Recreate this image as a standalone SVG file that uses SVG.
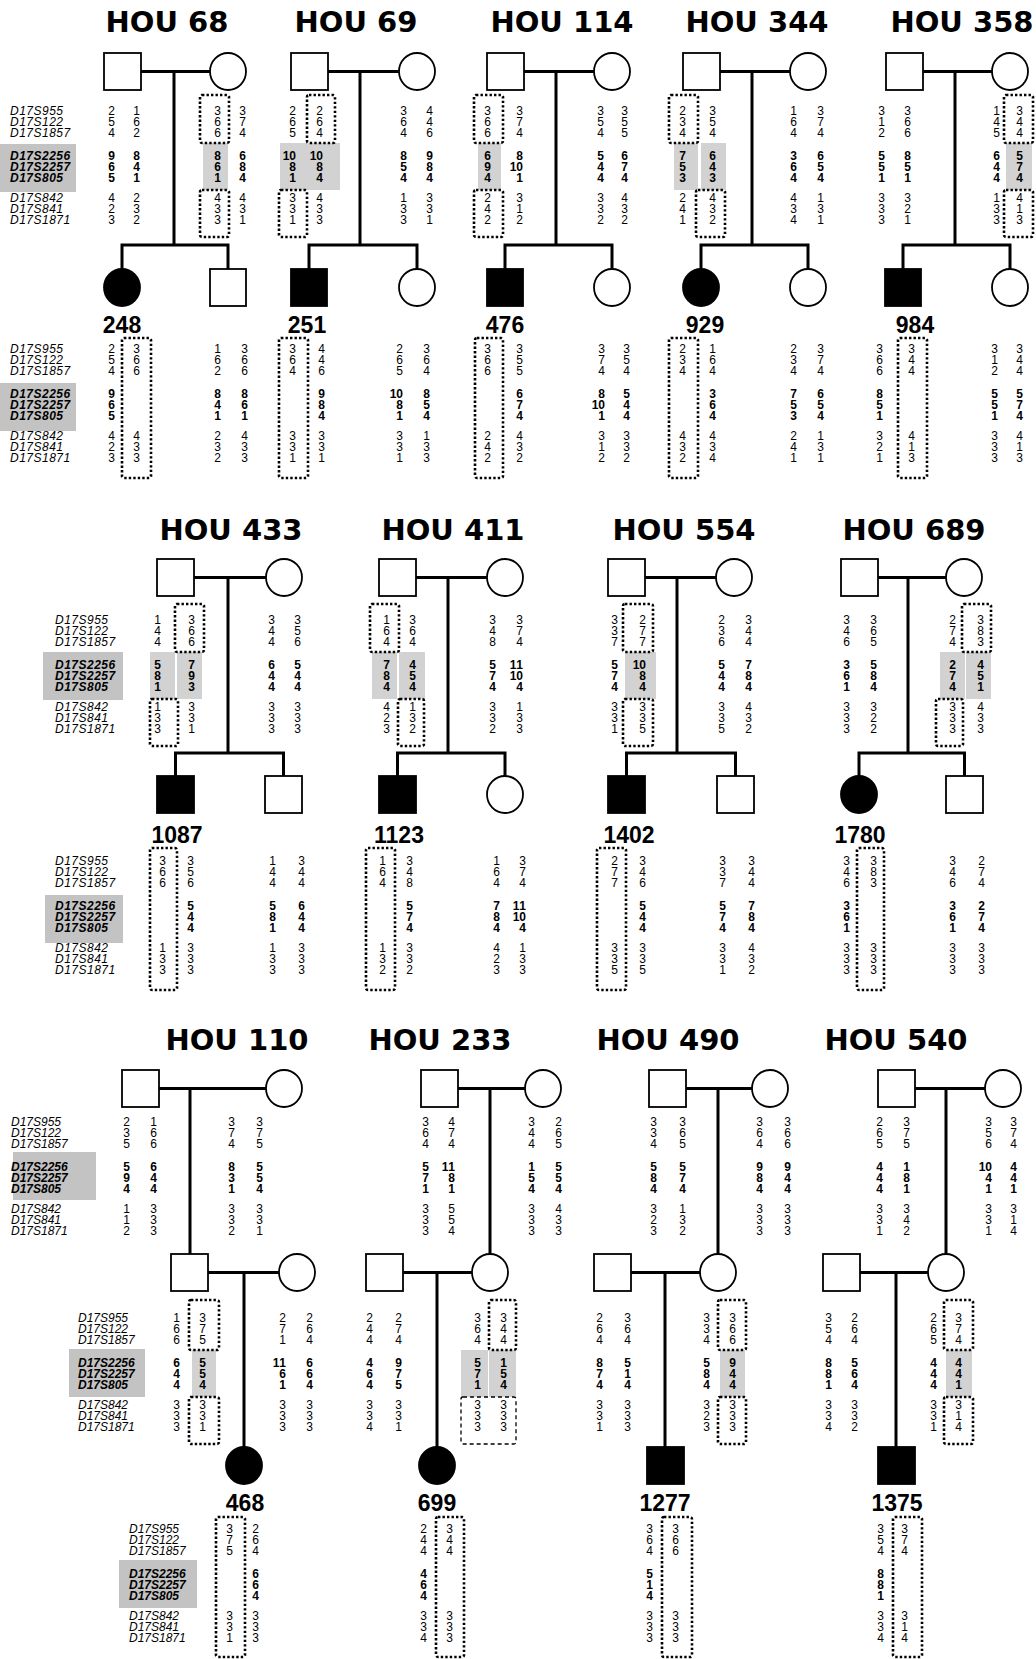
<svg xmlns="http://www.w3.org/2000/svg" width="1036" height="1659" viewBox="0 0 1036 1659">
<style>
.t{font-family:"DejaVu Sans",sans-serif;font-weight:bold;font-size:29px;text-anchor:middle}
.id{font-family:"Liberation Sans",Arial,sans-serif;font-weight:bold;font-size:23px;text-anchor:middle}
.mk{font-family:"Liberation Sans",Arial,sans-serif;font-style:italic;font-size:12px;letter-spacing:0.5px}
.mk3{font-family:"Liberation Sans",Arial,sans-serif;font-style:italic;font-size:12px}
.d{font-family:"Liberation Sans",Arial,sans-serif;font-size:12px;text-anchor:end}
.b{font-weight:bold}
.lsh{fill:#c3c3c3}
.sh{fill:#d2d2d2}
.box{fill:none;stroke:#000;stroke-width:2.6;stroke-dasharray:2.4 2.1}
.dsh{fill:none;stroke:#000;stroke-width:1.3;stroke-dasharray:4 3}
.ln{fill:none;stroke:#000;stroke-width:3;stroke-linecap:square}
.o{fill:#fff;stroke:#000;stroke-width:1.8}
.f{fill:#000;stroke:#000;stroke-width:1.8}
</style>
<rect width="1036" height="1659" fill="#fff"/>

<g id="titles">
<text class="t" x="167" y="32">HOU 68</text>
<text class="t" x="356" y="32">HOU 69</text>
<text class="t" x="562" y="32">HOU 114</text>
<text class="t" x="757" y="32">HOU 344</text>
<text class="t" x="962" y="32">HOU 358</text>
<text class="t" x="231" y="540">HOU 433</text>
<text class="t" x="453" y="540">HOU 411</text>
<text class="t" x="684" y="540">HOU 554</text>
<text class="t" x="914" y="540">HOU 689</text>
<text class="t" x="237" y="1050">HOU 110</text>
<text class="t" x="440" y="1050">HOU 233</text>
<text class="t" x="668" y="1050">HOU 490</text>
<text class="t" x="896" y="1050">HOU 540</text>
</g>

<g id="marker-labels">
<rect class="lsh" x="0" y="144" width="76" height="48"/>
<rect class="lsh" x="0" y="383" width="76" height="48"/>
<rect class="lsh" x="43" y="652" width="80" height="48"/>
<rect class="lsh" x="45" y="895" width="78" height="48"/>
<rect class="lsh" x="13" y="1152" width="83" height="48"/>
<rect class="lsh" x="69" y="1349" width="76" height="48"/>
<rect class="lsh" x="119" y="1560" width="78" height="48"/>
<text class="mk" transform="translate(10,115)"><tspan x="0" y="0">D17S955</tspan><tspan x="0" y="11">D17S122</tspan><tspan x="0" y="22">D17S1857</tspan><tspan class="b" x="0" y="45">D17S2256</tspan><tspan class="b" x="0" y="56">D17S2257</tspan><tspan class="b" x="0" y="67">D17S805</tspan><tspan x="0" y="87">D17S842</tspan><tspan x="0" y="98">D17S841</tspan><tspan x="0" y="109">D17S1871</tspan></text>
<text class="mk" transform="translate(10,353)"><tspan x="0" y="0">D17S955</tspan><tspan x="0" y="11">D17S122</tspan><tspan x="0" y="22">D17S1857</tspan><tspan class="b" x="0" y="45">D17S2256</tspan><tspan class="b" x="0" y="56">D17S2257</tspan><tspan class="b" x="0" y="67">D17S805</tspan><tspan x="0" y="87">D17S842</tspan><tspan x="0" y="98">D17S841</tspan><tspan x="0" y="109">D17S1871</tspan></text>
<text class="mk" transform="translate(55,624)"><tspan x="0" y="0">D17S955</tspan><tspan x="0" y="11">D17S122</tspan><tspan x="0" y="22">D17S1857</tspan><tspan class="b" x="0" y="45">D17S2256</tspan><tspan class="b" x="0" y="56">D17S2257</tspan><tspan class="b" x="0" y="67">D17S805</tspan><tspan x="0" y="87">D17S842</tspan><tspan x="0" y="98">D17S841</tspan><tspan x="0" y="109">D17S1871</tspan></text>
<text class="mk" transform="translate(55,865)"><tspan x="0" y="0">D17S955</tspan><tspan x="0" y="11">D17S122</tspan><tspan x="0" y="22">D17S1857</tspan><tspan class="b" x="0" y="45">D17S2256</tspan><tspan class="b" x="0" y="56">D17S2257</tspan><tspan class="b" x="0" y="67">D17S805</tspan><tspan x="0" y="87">D17S842</tspan><tspan x="0" y="98">D17S841</tspan><tspan x="0" y="109">D17S1871</tspan></text>
<text class="mk3" transform="translate(11,1126)"><tspan x="0" y="0">D17S955</tspan><tspan x="0" y="11">D17S122</tspan><tspan x="0" y="22">D17S1857</tspan><tspan class="b" x="0" y="45">D17S2256</tspan><tspan class="b" x="0" y="56">D17S2257</tspan><tspan class="b" x="0" y="67">D17S805</tspan><tspan x="0" y="87">D17S842</tspan><tspan x="0" y="98">D17S841</tspan><tspan x="0" y="109">D17S1871</tspan></text>
<text class="mk3" transform="translate(78,1322)"><tspan x="0" y="0">D17S955</tspan><tspan x="0" y="11">D17S122</tspan><tspan x="0" y="22">D17S1857</tspan><tspan class="b" x="0" y="45">D17S2256</tspan><tspan class="b" x="0" y="56">D17S2257</tspan><tspan class="b" x="0" y="67">D17S805</tspan><tspan x="0" y="87">D17S842</tspan><tspan x="0" y="98">D17S841</tspan><tspan x="0" y="109">D17S1871</tspan></text>
<text class="mk3" transform="translate(129,1533)"><tspan x="0" y="0">D17S955</tspan><tspan x="0" y="11">D17S122</tspan><tspan x="0" y="22">D17S1857</tspan><tspan class="b" x="0" y="45">D17S2256</tspan><tspan class="b" x="0" y="56">D17S2257</tspan><tspan class="b" x="0" y="67">D17S805</tspan><tspan x="0" y="87">D17S842</tspan><tspan x="0" y="98">D17S841</tspan><tspan x="0" y="109">D17S1871</tspan></text>
</g>

<g id="connectors" class="ln">
<path d="M141 71.5H210M174 71.5V245M122 245H228M122 245V269M228 245V269"/>
<path d="M328 71.5H399M360 71.5V245M309 245H417M309 245V269M417 245V269"/>
<path d="M524 71.5H594M556 71.5V245M505 245H612M505 245V269M612 245V269"/>
<path d="M720 71.5H790M752 71.5V245M701 245H808M701 245V269M808 245V269"/>
<path d="M923 71.5H992M955 71.5V245M903 245H1010M903 245V269M1010 245V269"/>
<path d="M194 577.5H266M228 577.5V753M175.5 753H283.5M175.5 753V776M283.5 753V776"/>
<path d="M416 577.5H487M448 577.5V753M397.5 753H505M397.5 753V776M505 753V776"/>
<path d="M645 577.5H716M677 577.5V753M626.5 753H735.5M626.5 753V776M735.5 753V776"/>
<path d="M878 577.5H946M908 577.5V753M859 753H964.5M859 753V776M964.5 753V776"/>
<path d="M159 1088.5H266M190 1088.5V1254M208 1272.5H279M244 1272.5V1447"/>
<path d="M458 1088.5H525M490 1088.5V1254M403 1272.5H472M437 1272.5V1447"/>
<path d="M686 1088.5H752M718 1088.5V1254M631 1272.5H700M665 1272.5V1447"/>
<path d="M915 1088.5H985M946 1088.5V1254M860 1272.5H928M896 1272.5V1447"/>
</g>

<!-- ROW 1 -->
<g id="hou68-father">
<rect class="o" x="104" y="53" width="37" height="37"/>
<text class="d" transform="translate(115,115)" x="0 0 0 0 0 0 0 0 0" y="0 11 22 45 56 67 87 98 109">254<tspan class="b">965</tspan>423</text>
<text class="d" transform="translate(140,115)" x="0 0 0 0 0 0 0 0 0" y="0 11 22 45 56 67 87 98 109">162<tspan class="b">841</tspan>232</text>
</g>
<g id="hou68-mother">
<rect class="sh" x="203" y="143" width="25" height="47"/>
<ellipse class="o" cx="228" cy="71.5" rx="18" ry="18.5"/>
<text class="d" transform="translate(221,115)" x="0 0 0 0 0 0 0 0 0" y="0 11 22 45 56 67 87 98 109">366<tspan class="b">861</tspan>433</text>
<text class="d" transform="translate(246,115)" x="0 0 0 0 0 0 0 0 0" y="0 11 22 45 56 67 87 98 109">374<tspan class="b">684</tspan>431</text>
<rect class="box" x="200" y="95" width="29" height="48" rx="2"/>
<rect class="box" x="200" y="190" width="29" height="47" rx="2"/>
</g>
<g id="hou68-248">
<ellipse class="f" cx="122" cy="287.5" rx="18" ry="18.5"/>
<text class="id" x="122" y="333">248</text>
<text class="d" transform="translate(115,353)" x="0 0 0 0 0 0 0 0 0" y="0 11 22 45 56 67 87 98 109">254<tspan class="b">965</tspan>423</text>
<text class="d" transform="translate(140,353)" x="0 0 0 0 0 0" y="0 11 22 87 98 109">366433</text>
<rect class="box" x="122" y="338" width="29" height="140" rx="2"/>
</g>
<g id="hou68-sib">
<rect class="o" x="210" y="269" width="36" height="37"/>
<text class="d" transform="translate(221,353)" x="0 0 0 0 0 0 0 0 0" y="0 11 22 45 56 67 87 98 109">162<tspan class="b">841</tspan>232</text>
<text class="d" transform="translate(248,353)" x="0 0 0 0 0 0 0 0 0" y="0 11 22 45 56 67 87 98 109">366<tspan class="b">861</tspan>433</text>
</g>

<g id="hou69-father">
<rect class="sh" x="280" y="143" width="60" height="47"/>
<rect class="o" x="291" y="53" width="37" height="37"/>
<text class="d" transform="translate(296,115)" x="0 0 0 -6.7 0 0 0 0 0 0" y="0 11 22 45 45 56 67 87 98 109">265<tspan class="b">1081</tspan>331</text>
<text class="d" transform="translate(323,115)" x="0 0 0 -6.7 0 0 0 0 0 0" y="0 11 22 45 45 56 67 87 98 109">264<tspan class="b">1084</tspan>433</text>
<rect class="box" x="307" y="95" width="28" height="48" rx="2"/>
<rect class="box" x="279" y="190" width="28" height="47" rx="2"/>
</g>
<g id="hou69-mother">
<ellipse class="o" cx="417" cy="71.5" rx="18" ry="18.5"/>
<text class="d" transform="translate(407,115)" x="0 0 0 0 0 0 0 0 0" y="0 11 22 45 56 67 87 98 109">364<tspan class="b">854</tspan>133</text>
<text class="d" transform="translate(433,115)" x="0 0 0 0 0 0 0 0 0" y="0 11 22 45 56 67 87 98 109">446<tspan class="b">984</tspan>331</text>
</g>
<g id="hou69-251">
<rect class="f" x="291" y="269" width="36" height="37"/>
<text class="id" x="307" y="333">251</text>
<text class="d" transform="translate(296,353)" x="0 0 0 0 0 0" y="0 11 22 87 98 109">364331</text>
<text class="d" transform="translate(325,353)" x="0 0 0 0 0 0 0 0 0" y="0 11 22 45 56 67 87 98 109">446<tspan class="b">984</tspan>331</text>
<rect class="box" x="279" y="338" width="29" height="140" rx="2"/>
</g>
<g id="hou69-sib">
<ellipse class="o" cx="417" cy="287.5" rx="18" ry="18.5"/>
<text class="d" transform="translate(403,353)" x="0 0 0 -6.7 0 0 0 0 0 0" y="0 11 22 45 45 56 67 87 98 109">265<tspan class="b">1081</tspan>331</text>
<text class="d" transform="translate(430,353)" x="0 0 0 0 0 0 0 0 0" y="0 11 22 45 56 67 87 98 109">364<tspan class="b">854</tspan>133</text>
</g>

<g id="hou114-father">
<rect class="sh" x="478" y="143" width="23" height="47"/>
<rect class="o" x="487" y="53" width="37" height="37"/>
<text class="d" transform="translate(491,115)" x="0 0 0 0 0 0 0 0 0" y="0 11 22 45 56 67 87 98 109">366<tspan class="b">694</tspan>242</text>
<text class="d" transform="translate(523,115)" x="0 0 0 0 -6.7 0 0 0 0 0" y="0 11 22 45 56 56 67 87 98 109">374<tspan class="b">8101</tspan>312</text>
<rect class="box" x="474" y="95" width="29" height="48" rx="2"/>
<rect class="box" x="474" y="190" width="29" height="47" rx="2"/>
</g>
<g id="hou114-mother">
<ellipse class="o" cx="612" cy="71.5" rx="18" ry="18.5"/>
<text class="d" transform="translate(604,115)" x="0 0 0 0 0 0 0 0 0" y="0 11 22 45 56 67 87 98 109">354<tspan class="b">544</tspan>332</text>
<text class="d" transform="translate(628,115)" x="0 0 0 0 0 0 0 0 0" y="0 11 22 45 56 67 87 98 109">355<tspan class="b">674</tspan>432</text>
</g>
<g id="hou114-476">
<rect class="f" x="487" y="269" width="36" height="37"/>
<text class="id" x="505" y="333">476</text>
<text class="d" transform="translate(491,353)" x="0 0 0 0 0 0" y="0 11 22 87 98 109">366242</text>
<text class="d" transform="translate(523,353)" x="0 0 0 0 0 0 0 0 0" y="0 11 22 45 56 67 87 98 109">355<tspan class="b">674</tspan>432</text>
<rect class="box" x="475" y="338" width="28" height="140" rx="2"/>
</g>
<g id="hou114-sib">
<ellipse class="o" cx="612" cy="287.5" rx="18" ry="18.5"/>
<text class="d" transform="translate(605,353)" x="0 0 0 0 -6.7 0 0 0 0 0" y="0 11 22 45 56 56 67 87 98 109">374<tspan class="b">8101</tspan>312</text>
<text class="d" transform="translate(630,353)" x="0 0 0 0 0 0 0 0 0" y="0 11 22 45 56 67 87 98 109">354<tspan class="b">544</tspan>332</text>
</g>

<g id="hou344-father">
<rect class="sh" x="674" y="143" width="24" height="47"/>
<rect class="sh" x="701" y="143" width="25" height="47"/>
<rect class="o" x="683" y="53" width="37" height="37"/>
<text class="d" transform="translate(686,115)" x="0 0 0 0 0 0 0 0 0" y="0 11 22 45 56 67 87 98 109">234<tspan class="b">753</tspan>241</text>
<text class="d" transform="translate(716,115)" x="0 0 0 0 0 0 0 0 0" y="0 11 22 45 56 67 87 98 109">354<tspan class="b">643</tspan>432</text>
<rect class="box" x="669" y="95" width="29" height="48" rx="2"/>
<rect class="box" x="696" y="190" width="29" height="47" rx="2"/>
</g>
<g id="hou344-mother">
<ellipse class="o" cx="808" cy="71.5" rx="18" ry="18.5"/>
<text class="d" transform="translate(797,115)" x="0 0 0 0 0 0 0 0 0" y="0 11 22 45 56 67 87 98 109">164<tspan class="b">364</tspan>434</text>
<text class="d" transform="translate(824,115)" x="0 0 0 0 0 0 0 0 0" y="0 11 22 45 56 67 87 98 109">374<tspan class="b">654</tspan>131</text>
</g>
<g id="hou344-929">
<ellipse class="f" cx="701" cy="287.5" rx="18" ry="18.5"/>
<text class="id" x="705" y="333">929</text>
<text class="d" transform="translate(686,353)" x="0 0 0 0 0 0" y="0 11 22 87 98 109">234432</text>
<text class="d" transform="translate(716,353)" x="0 0 0 0 0 0 0 0 0" y="0 11 22 45 56 67 87 98 109">164<tspan class="b">364</tspan>434</text>
<rect class="box" x="669" y="338" width="29" height="140" rx="2"/>
</g>
<g id="hou344-sib">
<ellipse class="o" cx="808" cy="287.5" rx="18" ry="18.5"/>
<text class="d" transform="translate(797,353)" x="0 0 0 0 0 0 0 0 0" y="0 11 22 45 56 67 87 98 109">234<tspan class="b">753</tspan>241</text>
<text class="d" transform="translate(824,353)" x="0 0 0 0 0 0 0 0 0" y="0 11 22 45 56 67 87 98 109">374<tspan class="b">654</tspan>131</text>
</g>

<g id="hou358-father">
<rect class="o" x="886" y="53" width="37" height="37"/>
<text class="d" transform="translate(885,115)" x="0 0 0 0 0 0 0 0 0" y="0 11 22 45 56 67 87 98 109">312<tspan class="b">551</tspan>333</text>
<text class="d" transform="translate(911,115)" x="0 0 0 0 0 0 0 0 0" y="0 11 22 45 56 67 87 98 109">366<tspan class="b">851</tspan>321</text>
</g>
<g id="hou358-mother">
<rect class="sh" x="1006" y="143" width="26" height="47"/>
<ellipse class="o" cx="1010" cy="71.5" rx="18" ry="18.5"/>
<text class="d" transform="translate(1000,115)" x="0 0 0 0 0 0 0 0 0" y="0 11 22 45 56 67 87 98 109">145<tspan class="b">644</tspan>133</text>
<text class="d" transform="translate(1023,115)" x="0 0 0 0 0 0 0 0 0" y="0 11 22 45 56 67 87 98 109">344<tspan class="b">574</tspan>413</text>
<rect class="box" x="1004" y="95" width="29" height="48" rx="2"/>
<rect class="box" x="1004" y="190" width="29" height="47" rx="2"/>
</g>
<g id="hou358-984">
<rect class="f" x="885" y="269" width="36" height="37"/>
<text class="id" x="915" y="333">984</text>
<text class="d" transform="translate(883,353)" x="0 0 0 0 0 0 0 0 0" y="0 11 22 45 56 67 87 98 109">366<tspan class="b">851</tspan>321</text>
<text class="d" transform="translate(915,353)" x="0 0 0 0 0 0" y="0 11 22 87 98 109">344413</text>
<rect class="box" x="898" y="338" width="29" height="140" rx="2"/>
</g>
<g id="hou358-sib">
<ellipse class="o" cx="1010" cy="287.5" rx="18" ry="18.5"/>
<text class="d" transform="translate(998,353)" x="0 0 0 0 0 0 0 0 0" y="0 11 22 45 56 67 87 98 109">312<tspan class="b">551</tspan>333</text>
<text class="d" transform="translate(1023,353)" x="0 0 0 0 0 0 0 0 0" y="0 11 22 45 56 67 87 98 109">344<tspan class="b">574</tspan>413</text>
</g>

<!-- ROW 2 -->
<g id="hou433-father">
<rect class="sh" x="150" y="652" width="25" height="47"/>
<rect class="sh" x="177" y="652" width="25" height="47"/>
<rect class="o" x="157" y="559" width="37" height="37"/>
<text class="d" transform="translate(161,624)" x="0 0 0 0 0 0 0 0 0" y="0 11 22 45 56 67 87 98 109">144<tspan class="b">581</tspan>133</text>
<text class="d" transform="translate(195,624)" x="0 0 0 0 0 0 0 0 0" y="0 11 22 45 56 67 87 98 109">366<tspan class="b">793</tspan>331</text>
<rect class="box" x="175" y="604" width="29" height="48" rx="2"/>
<rect class="box" x="150" y="699" width="28" height="47" rx="2"/>
</g>
<g id="hou433-mother">
<ellipse class="o" cx="284" cy="577.5" rx="18" ry="18.5"/>
<text class="d" transform="translate(275,624)" x="0 0 0 0 0 0 0 0 0" y="0 11 22 45 56 67 87 98 109">344<tspan class="b">644</tspan>333</text>
<text class="d" transform="translate(301,624)" x="0 0 0 0 0 0 0 0 0" y="0 11 22 45 56 67 87 98 109">356<tspan class="b">544</tspan>333</text>
</g>
<g id="hou433-1087">
<rect class="f" x="157" y="776" width="37" height="37"/>
<text class="id" x="177" y="843">1087</text>
<text class="d" transform="translate(166,865)" x="0 0 0 0 0 0" y="0 11 22 87 98 109">366133</text>
<text class="d" transform="translate(194,865)" x="0 0 0 0 0 0 0 0 0" y="0 11 22 45 56 67 87 98 109">356<tspan class="b">544</tspan>333</text>
<rect class="box" x="150" y="848" width="27" height="142" rx="2"/>
</g>
<g id="hou433-sib">
<rect class="o" x="265" y="776" width="37" height="37"/>
<text class="d" transform="translate(276,865)" x="0 0 0 0 0 0 0 0 0" y="0 11 22 45 56 67 87 98 109">144<tspan class="b">581</tspan>133</text>
<text class="d" transform="translate(305,865)" x="0 0 0 0 0 0 0 0 0" y="0 11 22 45 56 67 87 98 109">344<tspan class="b">644</tspan>333</text>
</g>

<g id="hou411-father">
<rect class="sh" x="372" y="652" width="25" height="47"/>
<rect class="sh" x="399" y="652" width="26" height="47"/>
<rect class="o" x="379" y="559" width="37" height="37"/>
<text class="d" transform="translate(390,624)" x="0 0 0 0 0 0 0 0 0" y="0 11 22 45 56 67 87 98 109">164<tspan class="b">784</tspan>423</text>
<text class="d" transform="translate(416,624)" x="0 0 0 0 0 0 0 0 0" y="0 11 22 45 56 67 87 98 109">364<tspan class="b">454</tspan>132</text>
<rect class="box" x="370" y="604" width="29" height="48" rx="2"/>
<rect class="box" x="398" y="699" width="26" height="47" rx="2"/>
</g>
<g id="hou411-mother">
<ellipse class="o" cx="505" cy="577.5" rx="18" ry="18.5"/>
<text class="d" transform="translate(496,624)" x="0 0 0 0 0 0 0 0 0" y="0 11 22 45 56 67 87 98 109">348<tspan class="b">574</tspan>332</text>
<text class="d" transform="translate(523,624)" x="0 0 0 -6.7 0 -6.7 0 0 0 0 0" y="0 11 22 45 45 56 56 67 87 98 109">374<tspan class="b">11104</tspan>133</text>
</g>
<g id="hou411-1123">
<rect class="f" x="379" y="776" width="37" height="37"/>
<text class="id" x="399" y="843">1123</text>
<text class="d" transform="translate(386,865)" x="0 0 0 0 0 0" y="0 11 22 87 98 109">164132</text>
<text class="d" transform="translate(413,865)" x="0 0 0 0 0 0 0 0 0" y="0 11 22 45 56 67 87 98 109">348<tspan class="b">574</tspan>332</text>
<rect class="box" x="366" y="848" width="29" height="142" rx="2"/>
</g>
<g id="hou411-sib">
<ellipse class="o" cx="505" cy="794.5" rx="18" ry="18.5"/>
<text class="d" transform="translate(500,865)" x="0 0 0 0 0 0 0 0 0" y="0 11 22 45 56 67 87 98 109">164<tspan class="b">784</tspan>423</text>
<text class="d" transform="translate(526,865)" x="0 0 0 -6.7 0 -6.7 0 0 0 0 0" y="0 11 22 45 45 56 56 67 87 98 109">374<tspan class="b">11104</tspan>133</text>
</g>

<g id="hou554-father">
<rect class="sh" x="625" y="652" width="31" height="47"/>
<rect class="o" x="608" y="559" width="37" height="37"/>
<text class="d" transform="translate(618,624)" x="0 0 0 0 0 0 0 0 0" y="0 11 22 45 56 67 87 98 109">337<tspan class="b">574</tspan>331</text>
<text class="d" transform="translate(646,624)" x="0 0 0 -6.7 0 0 0 0 0 0" y="0 11 22 45 45 56 67 87 98 109">277<tspan class="b">1084</tspan>335</text>
<rect class="box" x="623" y="604" width="30" height="48" rx="2"/>
<rect class="box" x="623" y="699" width="30" height="47" rx="2"/>
</g>
<g id="hou554-mother">
<ellipse class="o" cx="734" cy="577.5" rx="18" ry="18.5"/>
<text class="d" transform="translate(725,624)" x="0 0 0 0 0 0 0 0 0" y="0 11 22 45 56 67 87 98 109">236<tspan class="b">544</tspan>335</text>
<text class="d" transform="translate(752,624)" x="0 0 0 0 0 0 0 0 0" y="0 11 22 45 56 67 87 98 109">344<tspan class="b">784</tspan>432</text>
</g>
<g id="hou554-1402">
<rect class="f" x="608" y="776" width="37" height="37"/>
<text class="id" x="629" y="843">1402</text>
<text class="d" transform="translate(618,865)" x="0 0 0 0 0 0" y="0 11 22 87 98 109">277335</text>
<text class="d" transform="translate(646,865)" x="0 0 0 0 0 0 0 0 0" y="0 11 22 45 56 67 87 98 109">346<tspan class="b">544</tspan>335</text>
<rect class="box" x="597" y="848" width="29" height="142" rx="2"/>
</g>
<g id="hou554-sib">
<rect class="o" x="717" y="776" width="37" height="37"/>
<text class="d" transform="translate(726,865)" x="0 0 0 0 0 0 0 0 0" y="0 11 22 45 56 67 87 98 109">337<tspan class="b">574</tspan>331</text>
<text class="d" transform="translate(755,865)" x="0 0 0 0 0 0 0 0 0" y="0 11 22 45 56 67 87 98 109">344<tspan class="b">784</tspan>432</text>
</g>

<g id="hou689-father">
<rect class="o" x="841" y="559" width="37" height="37"/>
<text class="d" transform="translate(850,624)" x="0 0 0 0 0 0 0 0 0" y="0 11 22 45 56 67 87 98 109">346<tspan class="b">361</tspan>333</text>
<text class="d" transform="translate(877,624)" x="0 0 0 0 0 0 0 0 0" y="0 11 22 45 56 67 87 98 109">365<tspan class="b">584</tspan>322</text>
</g>
<g id="hou689-mother">
<rect class="sh" x="940" y="652" width="25" height="47"/>
<rect class="sh" x="966" y="652" width="25" height="47"/>
<ellipse class="o" cx="964" cy="577.5" rx="18" ry="18.5"/>
<text class="d" transform="translate(956,624)" x="0 0 0 0 0 0 0 0 0" y="0 11 22 45 56 67 87 98 109">274<tspan class="b">274</tspan>333</text>
<text class="d" transform="translate(984,624)" x="0 0 0 0 0 0 0 0 0" y="0 11 22 45 56 67 87 98 109">383<tspan class="b">451</tspan>433</text>
<rect class="box" x="962" y="604" width="29" height="48" rx="2"/>
<rect class="box" x="936" y="699" width="27" height="47" rx="2"/>
</g>
<g id="hou689-1780">
<ellipse class="f" cx="859" cy="794.5" rx="18" ry="18.5"/>
<text class="id" x="860" y="843">1780</text>
<text class="d" transform="translate(850,865)" x="0 0 0 0 0 0 0 0 0" y="0 11 22 45 56 67 87 98 109">346<tspan class="b">361</tspan>333</text>
<text class="d" transform="translate(877,865)" x="0 0 0 0 0 0" y="0 11 22 87 98 109">383333</text>
<rect class="box" x="857" y="848" width="27" height="142" rx="2"/>
</g>
<g id="hou689-sib">
<rect class="o" x="946" y="776" width="37" height="37"/>
<text class="d" transform="translate(956,865)" x="0 0 0 0 0 0 0 0 0" y="0 11 22 45 56 67 87 98 109">346<tspan class="b">361</tspan>333</text>
<text class="d" transform="translate(985,865)" x="0 0 0 0 0 0 0 0 0" y="0 11 22 45 56 67 87 98 109">274<tspan class="b">274</tspan>333</text>
</g>

<!-- ROW 3 -->
<g id="hou110-grandfather">
<rect class="o" x="122" y="1070" width="37" height="37"/>
<text class="d" transform="translate(130,1126)" x="0 0 0 0 0 0 0 0 0" y="0 11 22 45 56 67 87 98 109">235<tspan class="b">594</tspan>112</text>
<text class="d" transform="translate(157,1126)" x="0 0 0 0 0 0 0 0 0" y="0 11 22 45 56 67 87 98 109">166<tspan class="b">644</tspan>333</text>
</g>
<g id="hou110-grandmother">
<ellipse class="o" cx="284" cy="1088.5" rx="18" ry="18.5"/>
<text class="d" transform="translate(235,1126)" x="0 0 0 0 0 0 0 0 0" y="0 11 22 45 56 67 87 98 109">374<tspan class="b">831</tspan>332</text>
<text class="d" transform="translate(263,1126)" x="0 0 0 0 0 0 0 0 0" y="0 11 22 45 56 67 87 98 109">375<tspan class="b">554</tspan>331</text>
</g>
<g id="hou110-father">
<rect class="sh" x="192" y="1350" width="24" height="47"/>
<rect class="o" x="171" y="1254" width="37" height="37"/>
<text class="d" transform="translate(180,1322)" x="0 0 0 0 0 0 0 0 0" y="0 11 22 45 56 67 87 98 109">166<tspan class="b">644</tspan>333</text>
<text class="d" transform="translate(206,1322)" x="0 0 0 0 0 0 0 0 0" y="0 11 22 45 56 67 87 98 109">375<tspan class="b">554</tspan>331</text>
<rect class="box" x="189" y="1300" width="30" height="50" rx="2"/>
<rect class="box" x="189" y="1397" width="30" height="47" rx="2"/>
</g>
<g id="hou110-mother">
<ellipse class="o" cx="297" cy="1272.5" rx="18" ry="18.5"/>
<text class="d" transform="translate(286,1322)" x="0 0 0 -6.7 0 0 0 0 0 0" y="0 11 22 45 45 56 67 87 98 109">271<tspan class="b">1161</tspan>333</text>
<text class="d" transform="translate(313,1322)" x="0 0 0 0 0 0 0 0 0" y="0 11 22 45 56 67 87 98 109">264<tspan class="b">664</tspan>333</text>
</g>
<g id="hou110-468">
<ellipse class="f" cx="244" cy="1465.5" rx="18" ry="18.5"/>
<text class="id" x="245" y="1511">468</text>
<text class="d" transform="translate(233,1533)" x="0 0 0 0 0 0" y="0 11 22 87 98 109">375331</text>
<text class="d" transform="translate(259,1533)" x="0 0 0 0 0 0 0 0 0" y="0 11 22 45 56 67 87 98 109">264<tspan class="b">664</tspan>333</text>
<rect class="box" x="216" y="1517" width="29" height="140" rx="2"/>
</g>

<g id="hou233-grandfather">
<rect class="o" x="421" y="1070" width="37" height="37"/>
<text class="d" transform="translate(429,1126)" x="0 0 0 0 0 0 0 0 0" y="0 11 22 45 56 67 87 98 109">364<tspan class="b">571</tspan>333</text>
<text class="d" transform="translate(455,1126)" x="0 0 0 -6.7 0 0 0 0 0 0" y="0 11 22 45 45 56 67 87 98 109">474<tspan class="b">1181</tspan>554</text>
</g>
<g id="hou233-grandmother">
<ellipse class="o" cx="543" cy="1088.5" rx="18" ry="18.5"/>
<text class="d" transform="translate(535,1126)" x="0 0 0 0 0 0 0 0 0" y="0 11 22 45 56 67 87 98 109">344<tspan class="b">154</tspan>333</text>
<text class="d" transform="translate(562,1126)" x="0 0 0 0 0 0 0 0 0" y="0 11 22 45 56 67 87 98 109">265<tspan class="b">554</tspan>433</text>
</g>
<g id="hou233-father">
<rect class="o" x="366" y="1254" width="37" height="37"/>
<text class="d" transform="translate(373,1322)" x="0 0 0 0 0 0 0 0 0" y="0 11 22 45 56 67 87 98 109">244<tspan class="b">464</tspan>334</text>
<text class="d" transform="translate(402,1322)" x="0 0 0 0 0 0 0 0 0" y="0 11 22 45 56 67 87 98 109">274<tspan class="b">975</tspan>331</text>
</g>
<g id="hou233-mother">
<rect class="sh" x="461" y="1350" width="27" height="47"/>
<rect class="sh" x="489" y="1350" width="27" height="47"/>
<ellipse class="o" cx="490" cy="1272.5" rx="18" ry="18.5"/>
<text class="d" transform="translate(481,1322)" x="0 0 0 0 0 0 0 0 0" y="0 11 22 45 56 67 87 98 109">364<tspan class="b">571</tspan>333</text>
<text class="d" transform="translate(507,1322)" x="0 0 0 0 0 0 0 0 0" y="0 11 22 45 56 67 87 98 109">344<tspan class="b">154</tspan>333</text>
<rect class="box" x="489" y="1300" width="27" height="50" rx="2"/>
<rect class="dsh" x="461" y="1397" width="55" height="47" rx="2"/>
</g>
<g id="hou233-699">
<ellipse class="f" cx="437" cy="1465.5" rx="18" ry="18.5"/>
<text class="id" x="437" y="1511">699</text>
<text class="d" transform="translate(427,1533)" x="0 0 0 0 0 0 0 0 0" y="0 11 22 45 56 67 87 98 109">244<tspan class="b">464</tspan>334</text>
<text class="d" transform="translate(453,1533)" x="0 0 0 0 0 0" y="0 11 22 87 98 109">344333</text>
<rect class="box" x="436" y="1517" width="28" height="140" rx="2"/>
</g>

<g id="hou490-grandfather">
<rect class="o" x="649" y="1070" width="37" height="37"/>
<text class="d" transform="translate(657,1126)" x="0 0 0 0 0 0 0 0 0" y="0 11 22 45 56 67 87 98 109">334<tspan class="b">584</tspan>323</text>
<text class="d" transform="translate(686,1126)" x="0 0 0 0 0 0 0 0 0" y="0 11 22 45 56 67 87 98 109">365<tspan class="b">574</tspan>132</text>
</g>
<g id="hou490-grandmother">
<ellipse class="o" cx="770" cy="1088.5" rx="18" ry="18.5"/>
<text class="d" transform="translate(763,1126)" x="0 0 0 0 0 0 0 0 0" y="0 11 22 45 56 67 87 98 109">364<tspan class="b">984</tspan>333</text>
<text class="d" transform="translate(791,1126)" x="0 0 0 0 0 0 0 0 0" y="0 11 22 45 56 67 87 98 109">366<tspan class="b">944</tspan>333</text>
</g>
<g id="hou490-father">
<rect class="o" x="594" y="1254" width="37" height="37"/>
<text class="d" transform="translate(603,1322)" x="0 0 0 0 0 0 0 0 0" y="0 11 22 45 56 67 87 98 109">264<tspan class="b">874</tspan>331</text>
<text class="d" transform="translate(631,1322)" x="0 0 0 0 0 0 0 0 0" y="0 11 22 45 56 67 87 98 109">364<tspan class="b">514</tspan>333</text>
</g>
<g id="hou490-mother">
<rect class="sh" x="720" y="1350" width="25" height="47"/>
<ellipse class="o" cx="718" cy="1272.5" rx="18" ry="18.5"/>
<text class="d" transform="translate(710,1322)" x="0 0 0 0 0 0 0 0 0" y="0 11 22 45 56 67 87 98 109">334<tspan class="b">584</tspan>323</text>
<text class="d" transform="translate(736,1322)" x="0 0 0 0 0 0 0 0 0" y="0 11 22 45 56 67 87 98 109">366<tspan class="b">944</tspan>333</text>
<rect class="box" x="718" y="1300" width="28" height="50" rx="2"/>
<rect class="box" x="718" y="1397" width="28" height="47" rx="2"/>
</g>
<g id="hou490-1277">
<rect class="f" x="647" y="1447" width="37" height="37"/>
<text class="id" x="665" y="1511">1277</text>
<text class="d" transform="translate(653,1533)" x="0 0 0 0 0 0 0 0 0" y="0 11 22 45 56 67 87 98 109">364<tspan class="b">514</tspan>333</text>
<text class="d" transform="translate(679,1533)" x="0 0 0 0 0 0" y="0 11 22 87 98 109">366333</text>
<rect class="box" x="662" y="1517" width="30" height="140" rx="2"/>
</g>

<g id="hou540-grandfather">
<rect class="o" x="878" y="1070" width="37" height="37"/>
<text class="d" transform="translate(883,1126)" x="0 0 0 0 0 0 0 0 0" y="0 11 22 45 56 67 87 98 109">265<tspan class="b">444</tspan>331</text>
<text class="d" transform="translate(910,1126)" x="0 0 0 0 0 0 0 0 0" y="0 11 22 45 56 67 87 98 109">375<tspan class="b">181</tspan>342</text>
</g>
<g id="hou540-grandmother">
<ellipse class="o" cx="1003" cy="1088.5" rx="18" ry="18.5"/>
<text class="d" transform="translate(992,1126)" x="0 0 0 -6.7 0 0 0 0 0 0" y="0 11 22 45 45 56 67 87 98 109">356<tspan class="b">1041</tspan>331</text>
<text class="d" transform="translate(1017,1126)" x="0 0 0 0 0 0 0 0 0" y="0 11 22 45 56 67 87 98 109">374<tspan class="b">441</tspan>314</text>
</g>
<g id="hou540-father">
<rect class="o" x="823" y="1254" width="37" height="37"/>
<text class="d" transform="translate(832,1322)" x="0 0 0 0 0 0 0 0 0" y="0 11 22 45 56 67 87 98 109">354<tspan class="b">881</tspan>334</text>
<text class="d" transform="translate(858,1322)" x="0 0 0 0 0 0 0 0 0" y="0 11 22 45 56 67 87 98 109">264<tspan class="b">564</tspan>332</text>
</g>
<g id="hou540-mother">
<rect class="sh" x="946" y="1350" width="26" height="47"/>
<ellipse class="o" cx="946" cy="1272.5" rx="18" ry="18.5"/>
<text class="d" transform="translate(937,1322)" x="0 0 0 0 0 0 0 0 0" y="0 11 22 45 56 67 87 98 109">265<tspan class="b">444</tspan>331</text>
<text class="d" transform="translate(962,1322)" x="0 0 0 0 0 0 0 0 0" y="0 11 22 45 56 67 87 98 109">374<tspan class="b">441</tspan>314</text>
<rect class="box" x="944" y="1300" width="29" height="50" rx="2"/>
<rect class="box" x="944" y="1397" width="29" height="47" rx="2"/>
</g>
<g id="hou540-1375">
<rect class="f" x="878" y="1447" width="37" height="37"/>
<text class="id" x="897" y="1511">1375</text>
<text class="d" transform="translate(884,1533)" x="0 0 0 0 0 0 0 0 0" y="0 11 22 45 56 67 87 98 109">354<tspan class="b">881</tspan>334</text>
<text class="d" transform="translate(908,1533)" x="0 0 0 0 0 0" y="0 11 22 87 98 109">374314</text>
<rect class="box" x="893" y="1517" width="29" height="140" rx="2"/>
</g>
</svg>
